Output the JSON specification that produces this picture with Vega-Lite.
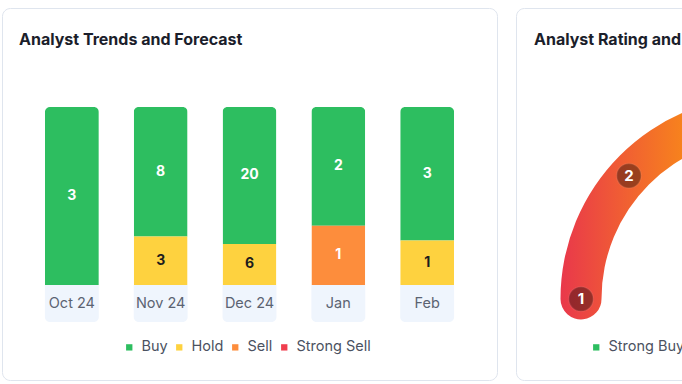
{
  "$schema": "https://vega.github.io/schema/vega-lite/v6.json",
  "padding": {"left": 1, "top": 7, "right": 0, "bottom": 0},
  "background": "white",
  "config": {
    "font": "Inter",
    "view": {"stroke": "#dfe5ee", "strokeWidth": 1, "cornerRadius": 8, "fill": "white"},
    "concat": {"spacing": 17}
  },
  "resolve": {"scale": {"color": "independent", "x": "independent", "y": "independent"}, "legend": {"color": "independent"}},
  "hconcat": [
    {
      "width": 495,
      "height": 372,
      "title": {"text": "Analyst Trends and Forecast", "anchor": "start", "frame": "group", "offset": 0, "dx": 17, "dy": 53, "baseline": "alphabetic", "fontSize": 16, "fontWeight": 700, "color": "#1b1e2b", "font": "Inter"},
      "data": {"values": [
        {"month": "Oct 24", "rating": "Buy", "count": 3},
        {"month": "Nov 24", "rating": "Buy", "count": 8},
        {"month": "Nov 24", "rating": "Hold", "count": 3},
        {"month": "Dec 24", "rating": "Buy", "count": 20},
        {"month": "Dec 24", "rating": "Hold", "count": 6},
        {"month": "Jan", "rating": "Buy", "count": 2},
        {"month": "Jan", "rating": "Sell", "count": 1},
        {"month": "Feb", "rating": "Buy", "count": 3},
        {"month": "Feb", "rating": "Hold", "count": 1}
      ]},
      "transform": [{"calculate": "indexof(['Strong Sell','Sell','Hold','Buy'], datum.rating)", "as": "ord"}],
      "layer": [
        {
          "transform": [{"filter": "datum.rating === 'Buy'"}],
          "mark": {"type": "bar", "color": "#eff5fd", "cornerRadiusBottomLeft": 5, "cornerRadiusBottomRight": 5},
          "encoding": {
            "x": {"field": "month", "type": "nominal", "sort": ["Oct 24", "Nov 24", "Dec 24", "Jan", "Feb"], "scale": {"paddingInner": 0.393, "paddingOuter": 0.483}, "axis": null},
            "y": {"datum": 0, "scale": {"domain": [-0.5337, 1.5562], "nice": false, "zero": false}, "axis": null},
            "y2": {"datum": -0.208}
          }
        },
        {
          "mark": {"type": "bar", "cornerRadiusTopLeft": 5, "cornerRadiusTopRight": 5},
          "encoding": {
            "x": {"field": "month", "type": "nominal", "sort": ["Oct 24", "Nov 24", "Dec 24", "Jan", "Feb"], "axis": null},
            "y": {"field": "count", "type": "quantitative", "stack": "normalize", "scale": {"domain": [-0.5337, 1.5562], "nice": false, "zero": false}, "axis": null},
            "order": {"field": "ord", "type": "quantitative"},
            "color": {
              "field": "rating", "type": "nominal",
              "scale": {"domain": ["Buy", "Hold", "Sell", "Strong Sell"], "range": ["#2dbe60", "#fed23f", "#fd8d3c", "#f03e4e"]},
              "legend": {"title": null, "orient": "none", "legendX": 120, "legendY": 332, "direction": "horizontal", "symbolType": "square", "symbolSize": 40, "symbolStrokeWidth": 0, "labelFontSize": 14.5, "labelColor": "#4b5261", "labelFont": "Inter", "labelOffset": 5, "columnPadding": 4, "padding": 0}
            }
          }
        },
        {
          "transform": [
            {"stack": "count", "groupby": ["month"], "sort": [{"field": "ord"}], "offset": "normalize", "as": ["y0", "y1"]},
            {"calculate": "(datum.y0 + datum.y1) / 2", "as": "mid"}
          ],
          "mark": {"type": "text", "fontSize": 14, "fontWeight": 700, "baseline": "middle", "font": "Inter"},
          "encoding": {
            "x": {"field": "month", "type": "nominal", "sort": ["Oct 24", "Nov 24", "Dec 24", "Jan", "Feb"], "axis": null},
            "y": {"field": "mid", "type": "quantitative", "axis": null},
            "text": {"field": "count", "type": "quantitative"},
            "color": {"condition": {"test": "datum.rating === 'Hold'", "value": "#1d1d1d"}, "value": "white"}
          }
        },
        {
          "transform": [{"filter": "datum.rating === 'Buy'"}],
          "mark": {"type": "text", "fontSize": 14.5, "color": "#5b6372", "baseline": "middle", "font": "Inter"},
          "encoding": {
            "x": {"field": "month", "type": "nominal", "sort": ["Oct 24", "Nov 24", "Dec 24", "Jan", "Feb"], "axis": null},
            "y": {"datum": -0.107},
            "text": {"field": "month", "type": "nominal"}
          }
        }
      ]
    },
    {
      "width": 495,
      "height": 372,
      "title": {"text": "Analyst Rating and Consensus", "anchor": "start", "frame": "group", "offset": 0, "dx": 18, "dy": 53, "baseline": "alphabetic", "fontSize": 16, "fontWeight": 700, "color": "#1b1e2b", "font": "Inter"},
      "layer": [
        {
          "data": {"values": [{"gauge": "rating"}]},
          "mark": {
            "type": "arc", "innerRadius": 162, "outerRadius": 203, "cornerRadius": 20.5, "theta": -1.683, "theta2": 1.683,
            "fill": {"gradient": "linear", "x1": 0, "y1": 0, "x2": 1, "y2": 0, "stops": [
              {"offset": 0, "color": "#e9384b"},
              {"offset": 0.3, "color": "#f7821d"},
              {"offset": 0.5, "color": "#facc15"},
              {"offset": 0.75, "color": "#a3d635"},
              {"offset": 1, "color": "#2dbe60"}
            ]}
          },
          "encoding": {
            "x": {"datum": 0, "type": "quantitative", "scale": {"domain": [-1.3562, 1.3562], "nice": false, "zero": false}, "axis": null},
            "y": {"datum": 0, "type": "quantitative", "scale": {"domain": [-0.4438, 1.5945], "nice": false, "zero": false}, "axis": null}
          }
        },
        {
          "data": {"values": [{"rating": 1}, {"rating": 2}, {"rating": 3}, {"rating": 4}, {"rating": 5}]},
          "transform": [
            {"calculate": "(datum.rating - 1) * PI * 0.236", "as": "ang"},
            {"calculate": "-cos(datum.ang)", "as": "px"},
            {"calculate": "sin(datum.ang)", "as": "py"}
          ],
          "layer": [
            {
              "mark": {"type": "point", "shape": "circle", "filled": true, "size": 600, "color": "#000000", "opacity": 0.36, "stroke": "#ffffff", "strokeOpacity": 0.2, "strokeWidth": 1.5},
              "encoding": {
                "x": {"field": "px", "type": "quantitative", "axis": null},
                "y": {"field": "py", "type": "quantitative", "axis": null}
              }
            },
            {
              "mark": {"type": "text", "fontSize": 15, "fontWeight": 700, "color": "white", "baseline": "middle", "font": "Inter"},
              "encoding": {
                "x": {"field": "px", "type": "quantitative", "axis": null},
                "y": {"field": "py", "type": "quantitative", "axis": null},
                "text": {"field": "rating", "type": "quantitative"}
              }
            }
          ]
        },
        {
          "data": {"values": [{"level": "Strong Buy"}, {"level": "Buy"}, {"level": "Hold"}, {"level": "Sell"}, {"level": "Strong Sell"}]},
          "mark": {"type": "text", "text": ""},
          "encoding": {
            "color": {
              "field": "level", "type": "nominal", "sort": null,
              "scale": {"domain": ["Strong Buy", "Buy", "Hold", "Sell", "Strong Sell"], "range": ["#2dbe60", "#8bd346", "#fed23f", "#fd8d3c", "#f03e4e"]},
              "legend": {"title": null, "orient": "none", "legendX": 73, "legendY": 332, "direction": "horizontal", "symbolType": "square", "symbolSize": 40, "symbolStrokeWidth": 0, "symbolOpacity": 1, "labelFontSize": 14.5, "labelColor": "#4b5261", "labelFont": "Inter", "labelOffset": 5, "columnPadding": 4, "padding": 0}
            }
          }
        }
      ]
    }
  ]
}
